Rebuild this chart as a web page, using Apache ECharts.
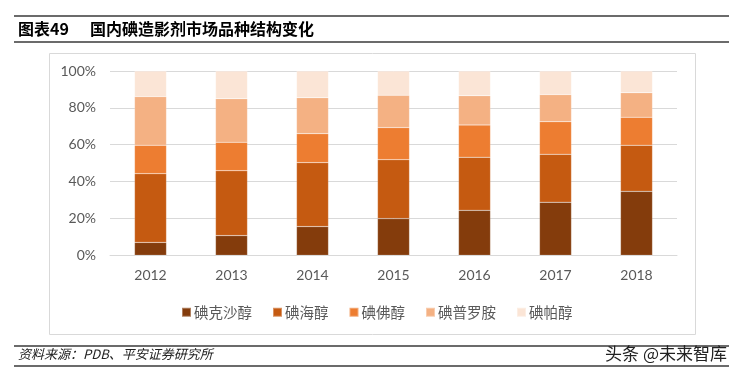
<!DOCTYPE html>
<html>
<head>
<meta charset="utf-8">
<script src="https://cdn.jsdelivr.net/npm/echarts@6/dist/echarts.min.js"></script>
<style>
html,body{margin:0;padding:0;background:#fff;}
#c{width:737px;height:381px;}
</style>
</head>
<body>
<div id="c"></div>
<script>
const categories = ['2012','2013','2014','2015','2016','2017','2018'];
const iodixanol = [7.0, 10.7, 15.6, 19.9, 24.4, 28.8, 34.7];
const iohexol   = [37.3, 35.2, 34.7, 32.0, 28.8, 26.0, 25.0];
const ioversol  = [15.4, 15.4, 15.7, 17.4, 17.5, 17.7, 15.2];
const iopromide = [26.4, 23.7, 19.5, 17.5, 15.9, 14.7, 13.3];
const iopamidol = [13.9, 15.0, 14.5, 13.2, 13.4, 12.8, 11.8];
const seriesNames = ['碘克沙醇','碘海醇','碘佛醇','碘普罗胺','碘帕醇'];
const yTicks = ['0%','20%','40%','60%','80%','100%'];

const colors = ['#843C0C','#C55A11','#ED7D31','#F4B183','#FBE5D6'];
const data = [iodixanol, iohexol, ioversol, iopromide, iopamidol];
const CJK = '"Noto Sans CJK SC", "Noto Sans", sans-serif';
const NUM = 'Lato, "Noto Sans", sans-serif';

const chart = echarts.init(document.getElementById('c'));
chart.setOption({
  animation: false,
  color: colors,
  grid: {left: 110, right: 60, top: 71, bottom: 125.7, containLabel: false},
  legend: {
    left: 176, top: 300, padding: 5,
    itemWidth: 9, itemHeight: 9, itemGap: 20,
    icon: 'rect',
    textStyle: {fontFamily: CJK, fontSize: 14.5, color: '#595959', padding: [0,0,0,-2]},
    data: seriesNames
  },
  xAxis: {
    type: 'category', data: categories,
    axisLine: {show: true, lineStyle: {color: '#D9D9D9', width: 1}},
    axisTick: {show: false},
    axisLabel: {fontFamily: NUM, fontSize: 14, color: '#595959', margin: 13}
  },
  yAxis: {
    type: 'value', min: 0, max: 100, interval: 20,
    axisLine: {show: false}, axisTick: {show: false},
    splitLine: {lineStyle: {color: '#D9D9D9', width: 1}},
    axisLabel: {fontFamily: NUM, fontSize: 14, color: '#595959', margin: 14,
      formatter: v => yTicks[Math.round(v/20)]}
  },
  series: data.map((d, i) => ({
    name: seriesNames[i], type: 'bar', stack: 'all', data: d, barWidth: 32,
    itemStyle: {color: colors[i], borderColor: 'rgba(255,255,255,0.35)', borderWidth: 0.5}
  })),
  graphic: [
    {type: 'line', shape: {x1: 14, y1: 16, x2: 729, y2: 16}, style: {stroke: '#3a3a3a', lineWidth: 1.5}},
    {type: 'line', shape: {x1: 14, y1: 42, x2: 729, y2: 42}, style: {stroke: '#3a3a3a', lineWidth: 1.5}},
    {type: 'text', left: 18, top: 21, style: {text: '图表49', font: 'bold 16px ' + CJK, fill: '#000'}},
    {type: 'text', left: 90, top: 21, style: {text: '国内碘造影剂市场品种结构变化', font: 'bold 16px ' + CJK, fill: '#000'}},
    {type: 'rect', shape: {x: 49.5, y: 53.5, width: 646, height: 281}, style: {fill: 'none', stroke: '#D9D9D9', lineWidth: 1}, z: -1},
    {type: 'line', shape: {x1: 14, y1: 346, x2: 729, y2: 346}, style: {stroke: '#3a3a3a', lineWidth: 1.5}},
    {type: 'line', shape: {x1: 14, y1: 366, x2: 729, y2: 366}, style: {stroke: '#3a3a3a', lineWidth: 1.5}},
    {type: 'text', left: 18, top: 348, style: {text: '资料来源：PDB、平安证券研究所', font: 'italic 13px ' + CJK, fill: '#222'}},
    {type: 'text', right: 10, top: 345, style: {text: '头条 @未来智库', font: '17px ' + CJK, fill: '#222'}}
  ]
});
</script>
</body>
</html>
